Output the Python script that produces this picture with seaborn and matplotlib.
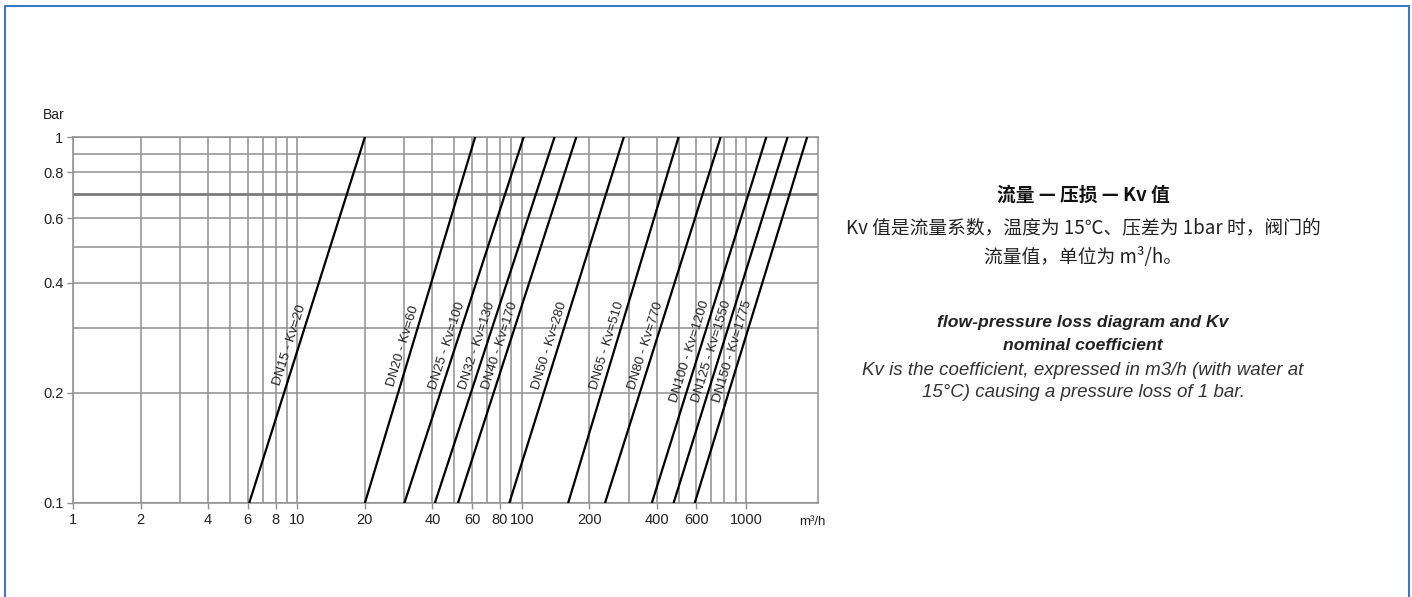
import numpy as np
import pandas as pd
import matplotlib
matplotlib.use('Agg')
import matplotlib.pyplot as plt
from matplotlib.lines import Line2D
from matplotlib.ticker import FixedLocator, NullFormatter, FixedFormatter
import seaborn as sns

# ----------------------------------------------------------------------------------
# Dane
# ----------------------------------------------------------------------------------
modele = ['DN15', 'DN20', 'DN25', 'DN32', 'DN40', 'DN50', 'DN65', 'DN80', 'DN100', 'DN125', 'DN150']
kv = [20, 60, 100, 130, 170, 280, 510, 770, 1200, 1550, 1775]
q_dol = [6.1, 20, 30, 41, 52, 88, 161, 235, 380, 475, 590]
q_gora = [20, 62, 102, 140, 175, 285, 500, 770, 1230, 1530, 1870]
dp_dol = 0.1
dp_gora = 1.0
# wysokosc srodka etykiety na linii (bar)
etykieta_dp = [0.265, 0.265, 0.265, 0.265, 0.265, 0.265, 0.265, 0.265, 0.255, 0.255, 0.255]

x_ticks = [1, 2, 4, 6, 8, 10, 20, 40, 60, 80, 100, 200, 400, 600, 1000]
y_ticks = [0.1, 0.2, 0.4, 0.6, 0.8, 1]
y_tick_labels = ['0.1', '0.2', '0.4', '0.6', '0.8', '1']

rows = []
for m, a, b in zip(modele, q_dol, q_gora):
    rows.append({'model': m, 'q': a, 'dp': dp_dol})
    rows.append({'model': m, 'q': b, 'dp': dp_gora})
df = pd.DataFrame(rows)

# ----------------------------------------------------------------------------------
# Wykres
# ----------------------------------------------------------------------------------
sns.set_style('white')
plt.rcParams['font.family'] = ['Liberation Sans', 'DejaVu Sans']

fig = plt.figure(figsize=(14.12, 5.97), dpi=100)
ax = fig.add_axes([0.0517, 0.1575, 0.5276, 0.613])

ax.set_xscale('log')
ax.set_yscale('log')
ax.set_xlim(1, 2090)
ax.set_ylim(0.1, 1)

grid_c = '#8f8f8f'
# siatka
x_grid = [m * 10 ** e for e in range(0, 3) for m in range(1, 10)] + [1000]
for xv in x_grid:
    ax.axvline(xv, color=grid_c, lw=1.1, zorder=1)
for yv in np.arange(1, 11) / 10:
    gruba = abs(yv - 0.7) < 1e-6
    ax.axhline(yv, color='#7a7a7a' if gruba else grid_c, lw=2.0 if gruba else 1.1, zorder=1)

sns.lineplot(data=df, x='q', y='dp', units='model', estimator=None,
             color='black', lw=1.6, ax=ax, zorder=3, legend=False)

# etykiety wzdluz linii
fig.canvas.draw()
for m, k, a, b, ed in zip(modele, kv, q_dol, q_gora, etykieta_dp):
    p0 = ax.transData.transform((a, dp_dol))
    p1 = ax.transData.transform((b, dp_gora))
    kat = np.degrees(np.arctan2(p1[1] - p0[1], p1[0] - p0[0]))
    t = np.log10(ed / dp_dol) / np.log10(dp_gora / dp_dol)
    xq = 10 ** (np.log10(a) + t * (np.log10(b) - np.log10(a)))
    nx, ny = -np.sin(np.radians(kat)), np.cos(np.radians(kat))
    ax.annotate(f'{m} - Kv={k}', xy=(xq, ed), xytext=(nx * 6, ny * 6),
                textcoords='offset points', rotation=kat, rotation_mode='anchor',
                ha='center', va='center', fontsize=9.5,
                family=['Liberation Sans Narrow', 'Liberation Sans'], color='#222222',
                zorder=4)

ax.xaxis.set_major_locator(FixedLocator(x_ticks))
ax.xaxis.set_major_formatter(FixedFormatter([str(v) for v in x_ticks]))
ax.xaxis.set_minor_locator(FixedLocator([]))
ax.xaxis.set_minor_formatter(NullFormatter())
ax.yaxis.set_major_locator(FixedLocator(y_ticks))
ax.yaxis.set_major_formatter(FixedFormatter(y_tick_labels))
ax.yaxis.set_minor_locator(FixedLocator([]))
ax.yaxis.set_minor_formatter(NullFormatter())
ax.tick_params(axis='both', which='major', length=4, width=1, color=grid_c,
               labelsize=10.5, labelcolor='#222222', pad=3, direction='out',
               bottom=True, left=True)
ax.set_xlabel('')
ax.set_ylabel('')
for s in ax.spines.values():
    s.set_color(grid_c)
    s.set_linewidth(1.1)

ax.text(-0.041, 1.04, 'Bar', transform=ax.transAxes, fontsize=10, color='#222222',
        ha='left', va='bottom')
ax.text(0.993, -0.035, 'm³/h', transform=ax.transAxes, fontsize=9.5, color='#222222',
        ha='center', va='top')

# tekst po prawej
cjk = ['Noto Sans CJK SC', 'DejaVu Sans']
cx = 0.767
fig.text(cx, 0.673, '流量 — 压损 — Kv 值', family=cjk, fontsize=13.5, fontweight='bold',
         ha='center', va='center', color='#111111')
fig.text(cx, 0.618, 'Kv 值是流量系数，温度为 15℃、压差为 1bar 时，阀门的', family=cjk,
         fontsize=13.5, ha='center', va='center', color='#222222')
fig.text(cx, 0.568, '流量值，单位为 m³/h。', family=cjk, fontsize=13.5,
         ha='center', va='center', color='#222222')
fig.text(cx, 0.459, 'flow-pressure loss diagram and Kv', fontsize=12.6, fontweight='bold',
         fontstyle='italic', ha='center', va='center', color='#222222')
fig.text(cx, 0.422, 'nominal coefficient', fontsize=12.6, fontweight='bold',
         fontstyle='italic', ha='center', va='center', color='#222222')
fig.text(cx, 0.380, 'Kv is the coefficient, expressed in m3/h (with water at', fontsize=13.5,
         fontstyle='italic', ha='center', va='center', color='#333333')
fig.text(cx, 0.342, '15°C) causing a pressure loss of 1 bar.', fontsize=13.5,
         fontstyle='italic', ha='center', va='center', color='#333333')

# ramka
ramka = '#3b78c6'
fig.add_artist(Line2D([5 / 1412, 1409 / 1412], [1 - 6 / 597, 1 - 6 / 597],
                      transform=fig.transFigure, color=ramka, lw=1.5))
fig.add_artist(Line2D([5 / 1412, 5 / 1412], [0, 1 - 6 / 597],
                      transform=fig.transFigure, color=ramka, lw=1.5))
fig.add_artist(Line2D([1409 / 1412, 1409 / 1412], [0, 1 - 6 / 597],
                      transform=fig.transFigure, color=ramka, lw=1.5))

fig.savefig('out.png', dpi=100, facecolor='white')
